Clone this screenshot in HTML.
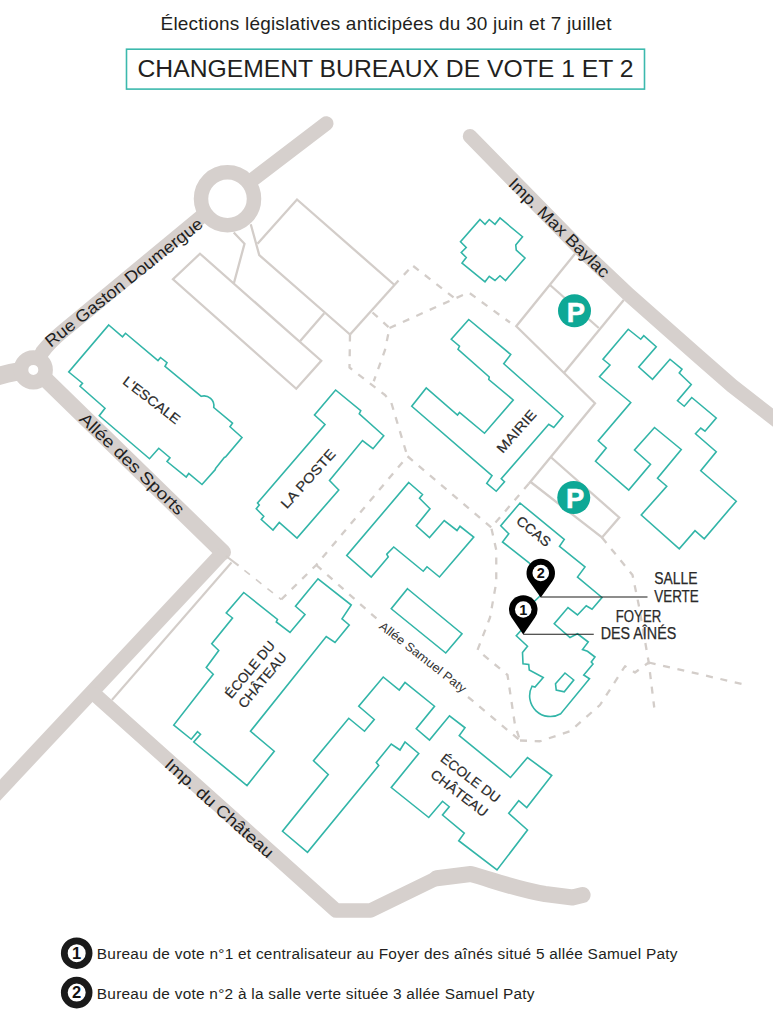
<!DOCTYPE html>
<html lang="fr"><head><meta charset="utf-8"><title>Changement bureaux de vote 1 et 2</title>
<style>html,body{margin:0;padding:0;background:#fff}body{width:773px;height:1024px;overflow:hidden}svg{display:block}text{font-family:"Liberation Sans",Arial,sans-serif}</style>
</head><body>
<svg width="773" height="1024" viewBox="0 0 773 1024">
<rect width="773" height="1024" fill="#fff"/>
<text x="386" y="29.6" font-size="19" text-anchor="middle" fill="#231f20" textLength="451" lengthAdjust="spacing">Élections législatives anticipées du 30 juin et 7 juillet</text>
<rect x="126.5" y="49.2" width="518" height="39.9" fill="none" stroke="#3cb9ad" stroke-width="1.6"/>
<text x="385.5" y="77.2" font-size="24.4" text-anchor="middle" fill="#231f20" textLength="496" lengthAdjust="spacingAndGlyphs">CHANGEMENT BUREAUX DE VOTE 1 ET 2</text>
<g fill="none" stroke="#d6d0cd" stroke-width="14.5" stroke-linejoin="round">
<path d="M33,370 L42.4,352 Q50,342 62,332 L227.5,195" stroke-linecap="butt"/>
<path d="M227.5,198.75 L326.25,123.5" stroke-linecap="round"/>
<path d="M33,370 Q15,370.5 -8,378" stroke-linecap="butt" stroke-width="18"/>
<path d="M34.5,368.5 L223,552.25" stroke-linecap="round" stroke-width="16"/>
<path d="M222.5,552.75 L-10,800.7" stroke-linecap="butt"/>
<path d="M95,694.6 L336,910.5 L370.5,910.5 L436.75,878.25 L470.75,874" stroke-linecap="round"/>
<path d="M436.75,878.25 L470.75,874 C490,879 515,889 545,894 L572.5,897.5 L582.5,895" stroke-linecap="round" stroke-width="16.2"/>
<path d="M470,136.25 L580,248.6 L629,295 L698,356 L732,385.7 L785,427" stroke-linecap="round"/>
</g>
<circle cx="227.5" cy="198.75" r="26.5" fill="#fff" stroke="#d6d0cd" stroke-width="14.5"/>
<circle cx="33.3" cy="369.9" r="12.3" fill="#fff" stroke="#d6d0cd" stroke-width="14.6"/>
<g fill="none" stroke="#d3cdc9" stroke-width="2.3" stroke-linejoin="miter">
<polygon points="200,253.75 321.25,360.75 296.25,388.75 173,279.25"/>
<polyline points="233.75,232.5 244.5,243.75 233.75,283.75"/>
<polyline points="250.75,224.25 259.25,255 350,334.5"/>
<polyline points="257.5,243.75 297,199.5 394.5,285"/>
<polyline points="398.5,280.5 350,334.5"/>
<polyline points="324.25,313.25 300,341.25"/>
<polyline points="575,253.75 516.25,326.25 595,403.25 528.75,483.75"/>
<polyline points="550,285 598.75,328"/>
<polyline points="623.75,300 564.25,372.5"/>
<polyline points="551.25,457.5 619.25,517.5 602,537.5 530,481.5"/>
</g>
<g fill="none" stroke="#d3cdc9" stroke-width="2.1"><polyline points="231.5,562.5 111.9,700"/><polyline points="226,556 238.6,565.7"/></g>
<g fill="none" stroke="#d3cdc9" stroke-width="2.3" stroke-dasharray="7 7.7" stroke-linejoin="round">
<polyline points="412.5,265.5 398.75,280.5" stroke-width="2.3" stroke-dashoffset="9"/>
<polyline points="413.2,266 455,298.5"/>
<polyline points="389.5,328 455,298.5 468.75,292.5 510,322.5"/>
<polyline points="372.5,312.5 389.5,328 385,350 373.75,381.25"/>
<polyline points="350,334.5 349.5,367.5 385,395 391.25,402.5 406.25,452.5 407.5,456.25"/>
<polyline points="244.4,570.3 281.25,599.5" stroke-width="1.6" stroke-dashoffset="0"/>
<polyline points="281.25,599.5 316.25,565 407.5,456.25"/>
<polyline points="316.25,565 377,619"/>
<polyline points="468,697 520,740.5"/>
<polyline points="407.5,456.25 491.25,527.5"/>
<polyline points="528.75,483.75 491.25,527.5 496.25,550 496.25,582.5 490,617.5 477.5,650 507.5,675 511.25,700 515,725 520,740.5"/>
<polyline points="520,740.5 540,741.25 570,731.25 600,705 625,666.25 635,672.5 648.75,662.5"/>
<polyline points="602,537.5 632.5,575 638.75,605 648.75,662.5 654.25,707.5"/>
<polyline points="648.75,662.5 749,685.6"/>
</g>
<g fill="none" stroke="#32b5a8" stroke-width="1.6" stroke-linejoin="miter">
<path d="M108.75,325 L122.5,336.75 L125.5,333.25 L158,360.5 L160.5,357.5 L167,362.75 L165,366.25 L201.25,396.25 A10,10 0 0 1 213.75,407.5 L232.5,423.25 L230,426.75 L242,437.5 L225.5,457 L224.5,457.2 L215.5,468.5 L215.3,469.6 L202,484.5 L188.75,473.5 L186.25,477 L167,461.5 L170,457.75 L158.75,448.25 L149.5,458.75 L99.25,415.75 L105,408.25 L80,386.25 L82.5,383.25 L68.75,372 Z"/>
<polygon points="335.6,390 360.75,410.75 359.25,413.75 383.75,435.75 373,448.75 362.5,440.5 329.5,480.5 338.75,490 297,538 279.25,522.5 273,530 261.25,519.5 263.75,516.25 256.25,508.75 259.25,505 257.5,503 325,424.5 314.5,415"/>
<polygon points="468.75,319.5 510.75,354.5 503.75,363.75 563,416.25 553.75,427.5 548.75,424.25 501.25,478.75 504.5,481.75 496.25,491.25 486.75,483.25 492,475.75 411.75,406.25 426.25,388 457.5,415 459.5,412.5 484.5,433.25 513.25,400 488.75,379.5 489.25,377 458,349.25 459.5,346.25 451.25,339.25"/>
<polygon points="480,219.5 485,224.25 489.25,219.5 495,224.25 500,218 522.5,236.75 515.75,245 516.25,250 525,258 505.5,280.5 500,275.75 495,280.5 489.25,276.25 485,281.75 462,263 466.25,257.5 461.25,252.5 466.25,247.5 460.5,241.75"/>
<polygon points="628.25,329.25 640.75,339.25 643.75,335.75 656.25,346.75 638.75,367 652.5,379.25 670,359.25 682,369.25 679.25,373 691.25,384.5 677.5,400.75 684.25,406.25 691.75,397.5 716.25,418 705,431.25 700.75,428 695.5,433.75 716.25,451.75 700.75,470.75 736.25,501.25 704.25,538.75 695,530.75 679.25,548.75 641.25,515 666.75,486.25 657.5,478.25 681.25,449.5 654.5,427.5 634.5,450 650.5,464.25 628.75,490 595.5,461.25 606.25,448 598.25,440.75 630.75,402.5 599.5,376.75 610,365 603,359.25"/>
<polygon points="408.75,482.5 422.5,494.5 419.5,498.25 430,508.75 416.25,525.75 429.5,537.5 444.25,520.5 457,530.5 460,526.25 473.75,537 439.5,577 427,566.75 423.25,571.25 393.75,547 386.75,554.25 388.25,557 371.25,577 346.75,555.5"/>
<polygon points="407.5,588.75 462,633.75 445.75,653 391.25,608.75"/>
<path d="M520,503 L564.25,539.5 L559.5,546.25 L585,567 L577.5,577 L602,597.5 L592,609.25 L586.25,605.75 L577.5,615 L568,607.5 L554.25,623.75 L570,637.5 L577.5,633.75 L588.25,642 L582.5,649.5 L587.5,651.25 L595,657 L591.25,662 L593,664 L583.75,675 L589.5,678.75 L560.75,713.75 A20.7,20.7 0 0 1 532,686.25 L535,687 L543.25,677.5 L529.25,670 L528.75,664.5 L523,663.75 L522.5,652.5 L527.5,646.25 L516.25,635.75 L523.25,628 L523.25,612 L540,596 L540.75,575 L528.75,562.5 L502.5,542 L508.75,533.75 L500.75,525.75 Z"/>
<polygon points="565,673 573.75,680 564.25,691.75 556.25,690 555.5,683.75"/>
<polygon points="243.75,592.5 277.5,619.5 276.25,622 290,632.5 305,614.5 295.5,606.25 318,578.75 351.25,605 342,618.75 349.25,625 335,642.5 326.25,636.5 250.5,731.25 274.25,751.25 247,785.5 193.75,742 200.5,734.25 197.5,731.75 191.25,739.25 173.75,725 213.25,674.25 206.25,667.5 218.75,650.5 211.75,643.75 232.5,618 226.25,613"/>
<polygon points="383.25,677 399.25,690 405,682.5 434.5,706.25 416.25,728.75 429.5,740 449.5,715.75 465,727.75 459.25,735.5 510.5,777.5 527.5,757.5 551.75,775.5 526.75,807.5 518.75,800.75 508.75,813.25 527.5,830 497,870 458.75,840.75 464.25,833.25 442.5,815 449.25,806.75 442.5,801.25 428.75,817.5 391.25,787.5 418.75,753.5 405,742 400,750 391.25,744 376.25,762.5 378.75,765.5 307.5,852.25 282.5,831.25 328.25,774.5 313.5,760.75 348.75,718.25 364.5,731.25 374.25,719.5 358.75,706.25"/>
</g>
<circle cx="574.5" cy="310.75" r="16.5" fill="#0ea896"/>
<text x="575.8" y="321.65" font-size="27.4" font-weight="700" text-anchor="middle" fill="#fff" stroke="#fff" stroke-width="0.5">P</text>
<circle cx="573.75" cy="497.5" r="16.5" fill="#0ea896"/>
<text x="575.05" y="508.4" font-size="27.4" font-weight="700" text-anchor="middle" fill="#fff" stroke="#fff" stroke-width="0.5">P</text>
<text transform="translate(123.7,282.2) rotate(-38.5)" x="0" y="6.09" font-size="17" font-weight="400" text-anchor="middle" fill="#1e1e1e" textLength="196" lengthAdjust="spacingAndGlyphs">Rue Gaston Doumergue</text>
<text transform="translate(132.2,463.8) rotate(43.9)" x="0" y="6.01" font-size="16.8" font-weight="400" text-anchor="middle" fill="#1e1e1e" textLength="138.5" lengthAdjust="spacingAndGlyphs">Allée des Sports</text>
<text transform="translate(559.5,227.5) rotate(44.5)" x="0" y="6.09" font-size="17" font-weight="400" text-anchor="middle" fill="#1e1e1e" textLength="134" lengthAdjust="spacingAndGlyphs">Imp. Max Baylac</text>
<text transform="translate(219.5,808) rotate(41.8)" x="0" y="5.94" font-size="16.6" font-weight="400" text-anchor="middle" fill="#1e1e1e" textLength="139.5" lengthAdjust="spacingAndGlyphs">Imp. du Château</text>
<text transform="translate(423,657) rotate(38)" x="0" y="4.37" font-size="12.2" font-weight="400" text-anchor="middle" fill="#333" textLength="106.5" lengthAdjust="spacingAndGlyphs">Allée Samuel Paty</text>
<text transform="translate(151.75,400) rotate(37.7)" x="0" y="4.87" font-size="13.6" font-weight="400" text-anchor="middle" fill="#2a2a2a" stroke="#2a2a2a" stroke-width="0.2" textLength="68" lengthAdjust="spacingAndGlyphs">L'ESCALE</text>
<text transform="translate(308,478.75) rotate(-48)" x="0" y="4.87" font-size="13.6" font-weight="400" text-anchor="middle" fill="#2a2a2a" stroke="#2a2a2a" stroke-width="0.2" textLength="74" lengthAdjust="spacingAndGlyphs">LA POSTE</text>
<text transform="translate(516.25,431.25) rotate(-48.7)" x="0" y="4.87" font-size="13.6" font-weight="400" text-anchor="middle" fill="#2a2a2a" stroke="#2a2a2a" stroke-width="0.2" textLength="52" lengthAdjust="spacingAndGlyphs">MAIRIE</text>
<text transform="translate(533.75,531.25) rotate(39)" x="0" y="4.87" font-size="13.6" font-weight="400" text-anchor="middle" fill="#2a2a2a" stroke="#2a2a2a" stroke-width="0.2" textLength="40" lengthAdjust="spacingAndGlyphs">CCAS</text>
<text transform="translate(249.8,669.4) rotate(-50.3)" x="0" y="4.87" font-size="13.6" font-weight="400" text-anchor="middle" fill="#2a2a2a" stroke="#2a2a2a" stroke-width="0.2" textLength="69.5" lengthAdjust="spacingAndGlyphs">ÉCOLE DU</text>
<text transform="translate(262.3,680.2) rotate(-50.3)" x="0" y="4.87" font-size="13.6" font-weight="400" text-anchor="middle" fill="#2a2a2a" stroke="#2a2a2a" stroke-width="0.2" textLength="67.5" lengthAdjust="spacingAndGlyphs">CHÂTEAU</text>
<text transform="translate(470.6,778) rotate(37.5)" x="0" y="4.87" font-size="13.6" font-weight="400" text-anchor="middle" fill="#2a2a2a" stroke="#2a2a2a" stroke-width="0.2" textLength="71" lengthAdjust="spacingAndGlyphs">ÉCOLE DU</text>
<text transform="translate(459.4,793) rotate(37.5)" x="0" y="4.87" font-size="13.6" font-weight="400" text-anchor="middle" fill="#2a2a2a" stroke="#2a2a2a" stroke-width="0.2" textLength="68" lengthAdjust="spacingAndGlyphs">CHÂTEAU</text>
<g stroke="#1d1d1b" stroke-width="1.1" fill="none">
<line x1="540.75" y1="597" x2="647.5" y2="597"/>
<line x1="523.25" y1="634.25" x2="593.75" y2="634.25"/>
</g>
<path d="M540.75,597.5 L529.16,581.29 A14.25,14.25 0 1 1 552.34,581.29 Z" fill="#000"/>
<circle cx="540.75" cy="573" r="8.3" fill="#fff"/>
<text x="540.75" y="578.1" font-size="14.5" font-weight="700" text-anchor="middle" fill="#111">2</text>
<path d="M523.25,634.5 L511.54,617.62 A14.25,14.25 0 1 1 534.96,617.62 Z" fill="#000"/>
<circle cx="523.25" cy="609.5" r="8.3" fill="#fff"/>
<text x="523.25" y="614.6" font-size="14.5" font-weight="700" text-anchor="middle" fill="#111">1</text>
<text x="654.25" y="584.25" font-size="15.8" stroke="#2a2a2a" stroke-width="0.25" fill="#2a2a2a" textLength="43.25" lengthAdjust="spacingAndGlyphs">SALLE</text>
<text x="654.25" y="602" font-size="15.8" stroke="#2a2a2a" stroke-width="0.25" fill="#2a2a2a" textLength="44.5" lengthAdjust="spacingAndGlyphs">VERTE</text>
<text x="638.5" y="621.75" font-size="15.8" stroke="#2a2a2a" stroke-width="0.25" fill="#2a2a2a" text-anchor="middle" textLength="45.5" lengthAdjust="spacingAndGlyphs">FOYER</text>
<text x="638.5" y="639.25" font-size="15.8" stroke="#2a2a2a" stroke-width="0.25" fill="#2a2a2a" text-anchor="middle" textLength="75.5" lengthAdjust="spacingAndGlyphs">DES AÎNÉS</text>
<circle cx="76.7" cy="953.2" r="12.4" fill="#fff" stroke="#1a1a1a" stroke-width="6.8"/>
<text x="76.7" y="958.9" font-size="16.5" font-weight="700" text-anchor="middle" fill="#111">1</text>
<text x="96.8" y="958.5" font-size="15.4" fill="#231f20" textLength="580.7" lengthAdjust="spacing">Bureau de vote n°1 et centralisateur au Foyer des aînés situé 5 allée Samuel Paty</text>
<circle cx="76.7" cy="992.6" r="12.4" fill="#fff" stroke="#1a1a1a" stroke-width="6.8"/>
<text x="76.7" y="998.3" font-size="16.5" font-weight="700" text-anchor="middle" fill="#111">2</text>
<text x="96.8" y="998.8" font-size="15.4" fill="#231f20" textLength="437.7" lengthAdjust="spacing">Bureau de vote n°2 à la salle verte située 3 allée Samuel Paty</text>
</svg>
</body></html>
